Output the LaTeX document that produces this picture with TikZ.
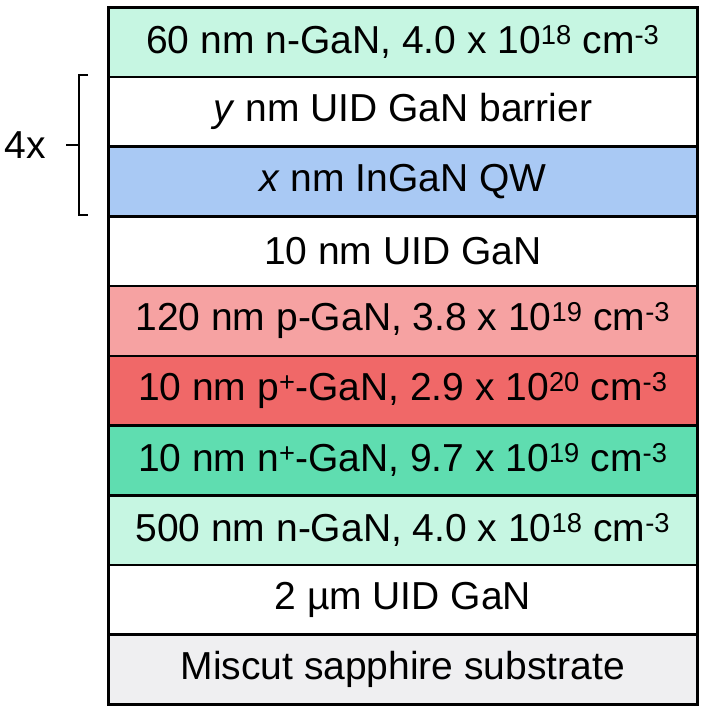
\documentclass[tikz,border=0pt]{standalone}
\usepackage{fontspec}
\setmainfont{Liberation Sans}
\definecolor{mint}{HTML}{C6F6E2}
\definecolor{qwblue}{HTML}{A9C9F4}
\definecolor{lightred}{HTML}{F6A2A2}
\definecolor{strongred}{HTML}{F06868}
\definecolor{strongg}{HTML}{5FDDB0}
\definecolor{subgray}{HTML}{EFEFF1}
\begin{document}
\begin{tikzpicture}[x=1pt,y=-1pt,
  layer/.style={draw=black,line width=2.6pt,minimum width=589pt,minimum height=69.7pt,inner sep=0pt,anchor=north west,font=\fontsize{39}{44}\selectfont},
  brk/.style={line width=2.2pt}]
\useasboundingbox (0,0) rectangle (701,710);
\node[layer,fill=mint]       (l1)  at (107,6)     {60 nm n-GaN, 4.0 x 10\textsuperscript{18} cm\textsuperscript{-3}};
\node[layer,fill=white]      (l2)  at (107,75.7)  {\textit{y} nm UID GaN barrier};
\node[layer,fill=qwblue]     (l3)  at (107,145.4) {\textit{x} nm InGaN QW};
\node[layer,fill=white]      (l4)  at (107,215.1) {10 nm UID GaN};
\node[layer,fill=lightred]   (l5)  at (107,284.8) {120 nm p-GaN, 3.8 x 10\textsuperscript{19} cm\textsuperscript{-3}};
\node[layer,fill=strongred]  (l6)  at (107,354.5) {10 nm p\textsuperscript{+}-GaN, 2.9 x 10\textsuperscript{20} cm\textsuperscript{-3}};
\node[layer,fill=strongg]    (l7)  at (107,424.2) {10 nm n\textsuperscript{+}-GaN, 9.7 x 10\textsuperscript{19} cm\textsuperscript{-3}};
\node[layer,fill=mint]       (l8)  at (107,493.9) {500 nm n-GaN, 4.0 x 10\textsuperscript{18} cm\textsuperscript{-3}};
\node[layer,fill=white]      (l9)  at (107,563.6) {2 µm UID GaN};
\node[layer,fill=subgray]    (l10) at (107,633.3) {Miscut sapphire substrate};
\coordinate (bt) at (88,75);
\coordinate (bb) at (88,215);
\coordinate (bm) at (79,145);
\draw[brk] (bt) -- ++(-9,0) -- (79,215) -- (bb);
\draw[brk] (bm) -- ++(-13,0);
\node[font=\fontsize{39}{44}\selectfont] (rep) at (25,145) {4x};
\end{tikzpicture}
\end{document}
